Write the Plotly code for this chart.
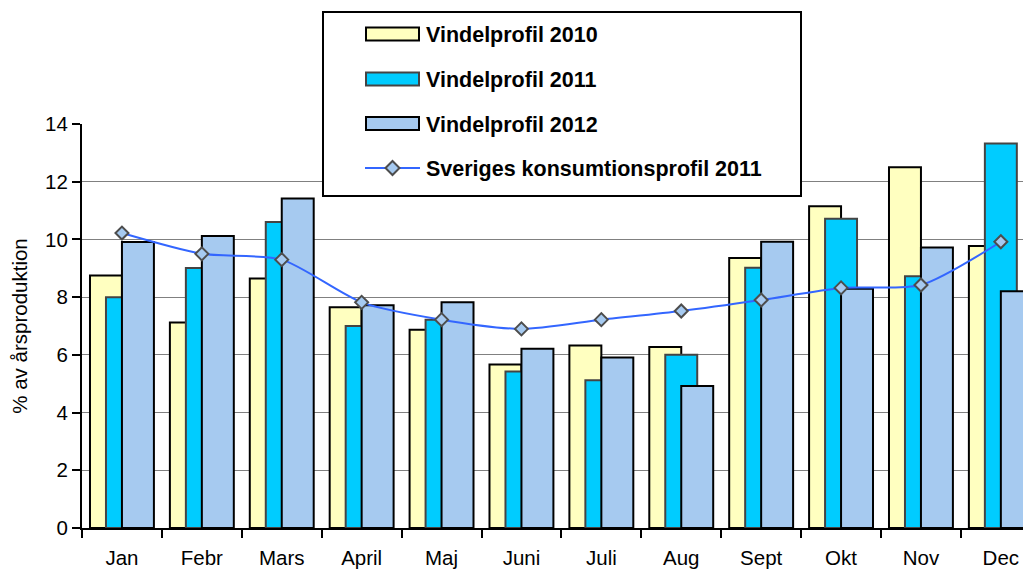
import plotly.graph_objects as go

months = ["Jan", "Febr", "Mars", "April", "Maj", "Juni", "Juli", "Aug", "Sept", "Okt", "Nov", "Dec"]
vind_2010 = [8.75, 7.12, 8.65, 7.65, 6.87, 5.67, 6.32, 6.27, 9.36, 11.15, 12.5, 9.77]
vind_2011 = [8.0, 9.01, 10.6, 7.0, 7.22, 5.42, 5.12, 6.0, 9.02, 10.72, 8.72, 13.32]
vind_2012 = [9.91, 10.12, 11.42, 7.72, 7.82, 6.21, 5.91, 4.92, 9.92, 8.29, 9.72, 8.2]
konsumtion_2011 = [10.22, 9.5, 9.3, 7.82, 7.22, 6.9, 7.22, 7.52, 7.9, 8.32, 8.42, 9.92]

legend_labels = ["Vindelprofil 2010", "Vindelprofil 2011", "Vindelprofil 2012",
                 "Sveriges konsumtionsprofil 2011"]

C2010, C2011, C2012 = "#FFFFC0", "#00CCFF", "#A6CAF0"
LINE_C = "#3366FF"
FONT = "Liberation Sans, Arial, sans-serif"

OFF = 8  # page body margin
W, H = 1031 - OFF, 570 - OFF
L, R, T, B = 82 - OFF, 0, 124 - OFF, 42
PW, PH = W - L - R, H - T - B


def px(x):
    return (x - OFF - L) / PW


def py(y):
    return (H - B - (y - OFF)) / PH


fig = go.Figure()
fig.add_trace(go.Bar(x=months, y=vind_2010, name=legend_labels[0], width=0.4, offset=-0.4,
                     marker=dict(color=C2010, line=dict(color="#000000", width=2))))
fig.add_trace(go.Bar(x=months, y=vind_2011, name=legend_labels[1], width=0.4, offset=-0.2,
                     marker=dict(color=C2011, line=dict(color="#444444", width=2))))
fig.add_trace(go.Bar(x=months, y=vind_2012, name=legend_labels[2], width=0.4, offset=0.0,
                     marker=dict(color=C2012, line=dict(color="#000000", width=2))))
fig.add_trace(go.Scatter(x=months, y=konsumtion_2011, name=legend_labels[3], mode="lines+markers",
                         line=dict(color=LINE_C, width=2, shape="spline", smoothing=0.7),
                         marker=dict(symbol="diamond", size=10, color=C2012,
                                     line=dict(color="#4D4D4D", width=2))))

shapes = []
annotations = []
# legend box
shapes.append(dict(type="rect", xref="paper", yref="paper", x0=px(323), x1=px(801), y0=py(196), y1=py(12),
                   fillcolor="white", line=dict(color="black", width=2), layer="above"))
rows = [34, 79, 123.5, 168]
fills = [C2010, C2011, C2012]
borders = ["#000000", "#444444", "#000000"]
for i in range(3):
    shapes.append(dict(type="rect", xref="paper", yref="paper", x0=px(366), x1=px(419),
                       y0=py(rows[i] + 6.5), y1=py(rows[i] - 6.5), fillcolor=fills[i],
                       line=dict(color=borders[i], width=2), layer="above"))
shapes.append(dict(type="line", xref="paper", yref="paper", x0=px(365), x1=px(420), y0=py(rows[3]), y1=py(rows[3]),
                   line=dict(color=LINE_C, width=2), layer="above"))
cx, cy, d = 392.5, rows[3], 7
shapes.append(dict(type="path", xref="paper", yref="paper",
                   path=f"M {px(cx-d)} {py(cy)} L {px(cx)} {py(cy-d)} L {px(cx+d)} {py(cy)} L {px(cx)} {py(cy+d)} Z",
                   fillcolor=C2012, line=dict(color="#4D4D4D", width=2), layer="above"))
for i, lab in enumerate(legend_labels):
    annotations.append(dict(xref="paper", yref="paper", x=px(424), y=py(rows[i] + 1), xanchor="left", yanchor="middle",
                            text=f"<b>{lab}</b>", showarrow=False, font=dict(family=FONT, size=21.5, color="black")))

fig.update_layout(
    width=W, height=H,
    margin=dict(l=L, r=R, t=T, b=B, autoexpand=False),
    barmode="overlay",
    plot_bgcolor="white", paper_bgcolor="white",
    showlegend=False,
    font=dict(family=FONT, size=20, color="black"),
    shapes=shapes, annotations=annotations,
    xaxis=dict(range=[-0.5, -0.5 + PW / 79.9], tickson="boundaries", ticks="outside", ticklen=8, tickwidth=2,
               tickcolor="black", showline=True, linecolor="black", linewidth=2, showgrid=False,
               tickfont=dict(size=20.5), ticklabelstandoff=10),
    yaxis=dict(range=[0, 14], dtick=2, ticks="outside", ticklen=8, tickwidth=2, tickcolor="black",
               showline=True, linecolor="black", linewidth=2, showgrid=True, gridcolor="#808080", gridwidth=1,
               tickfont=dict(size=20.5), zeroline=False,
               title=dict(text="% av årsproduktion", font=dict(size=20.5), standoff=14)),
)

fig.write_html("out.html")
